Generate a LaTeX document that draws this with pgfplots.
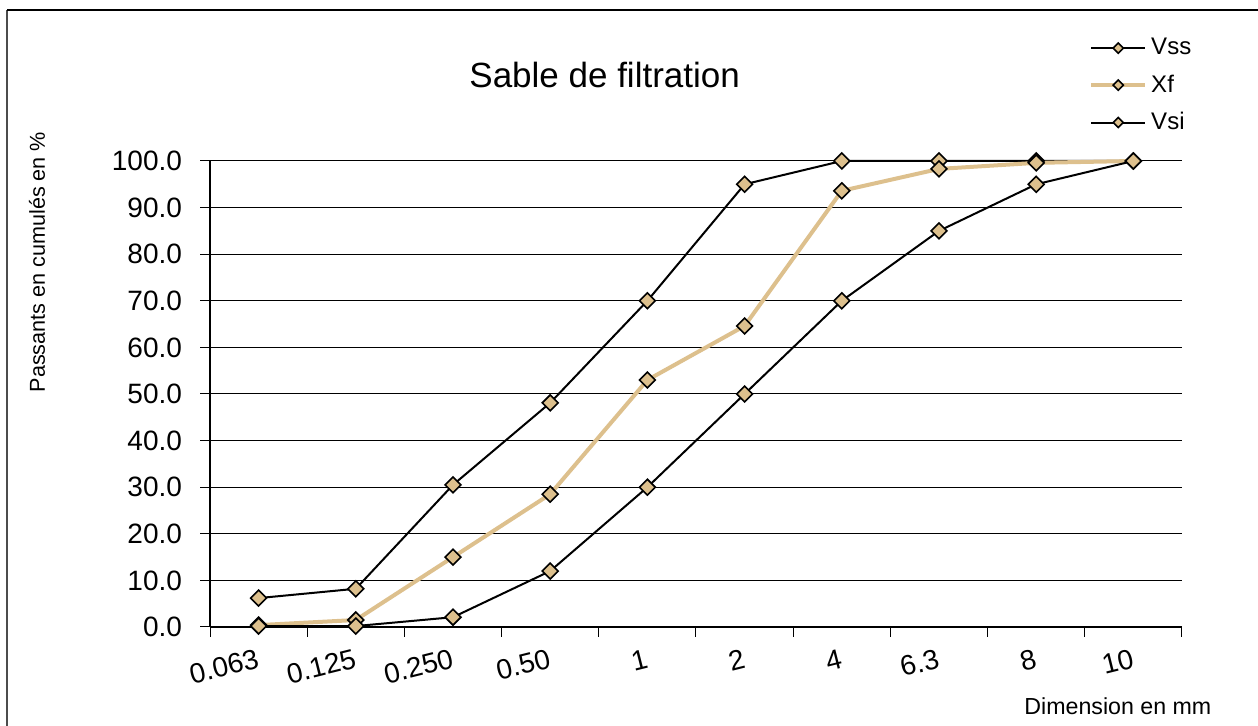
\documentclass[border=0pt]{standalone}
\usepackage{pgfplots}
\pgfplotsset{compat=1.18}
\usepackage{fontspec}
\setmainfont{Liberation Sans}
\definecolor{sand}{RGB}{221,192,141}

\begin{document}
\begin{tikzpicture}[x=1pt,y=1pt]
\useasboundingbox (0,0) rectangle (629,363);
\draw[line width=1pt, gray!60!black] (3.5,0) -- (3.5,358);
\draw[line width=1pt] (3.5,358) -- (629,358);
\begin{axis}[
    at={(105pt,49.5pt)}, anchor=south west,
    scale only axis, width=486pt, height=233pt,
    xmin=-0.5, xmax=9.5, ymin=0, ymax=100,
    clip=false,
    axis x line=bottom, axis y line=left,
    axis line style={-, black, line width=0.6pt},
    xtick={-0.5,0.5,...,9.5}, xticklabels={},
    extra x ticks={0,...,9},
    extra x tick labels={0.063,0.125,0.250,0.50,1,2,4,6.3,8,10},
    extra x tick style={major tick length=0pt, grid=none,
        xticklabel style={rotate=14, anchor=east, yshift=-15pt, xshift=-0.5pt}},
    ytick={0,10,...,100},
    ymajorgrids, major grid style={black, line width=0.5pt},
    tick align=outside, major tick length=5pt,
    tick style={black, line width=0.5pt},
    tick label style={font=\fontsize{14}{16}\selectfont},
    y tick label style={xshift=-5.5pt, /pgf/number format/.cd, fixed, fixed zerofill, precision=1,
        assume math mode=true, /tikz/.cd},
    x tick label style={/pgf/number format/assume math mode=true},
    title={Sable de filtration},
    title style={at={(rel axis cs:0.406,1.159)}, anchor=center, font=\fontsize{17.5}{20}\selectfont},
    ylabel={Passants en cumulés en \%},
    ylabel style={at={(rel axis cs:-0.178,0.783)}, anchor=center, rotate=0, font=\fontsize{10.8}{12}\selectfont},
    xlabel={Dimension en mm},
    xlabel style={at={(rel axis cs:0.934,-0.170)}, anchor=center, font=\fontsize{11.6}{13}\selectfont},
    legend style={draw=none, fill=none, at={(rel axis cs:0.898,1.281)}, anchor=north west,
        font=\fontsize{12}{13}\selectfont, row sep=4.5pt},
    legend cell align=left,
    legend image code/.code={
        \draw[#1] (0pt,0pt) -- (27pt,0pt);
        \draw[#1, mark size=1.8pt] plot coordinates {(13.5pt,0pt)};
    },
    every axis plot/.append style={mark=square*, mark size=2.8pt,
        mark options={rotate=45, solid, fill=sand, draw=black, line width=0.8pt}},
]
\addplot[black, line width=1pt] coordinates {
    (0,6.2) (1,8.2) (2,30.5) (3,48.1) (4,70) (5,95) (6,100) (7,100) (8,100) (9,100)};
\addlegendentry{Vss}
\addplot[sand, line width=2pt] coordinates {
    (0,0.4) (1,1.5) (2,15) (3,28.5) (4,53) (5,64.6) (6,93.6) (7,98.3) (8,99.6) (9,100)};
\addlegendentry{Xf}
\addplot[black, line width=1pt] coordinates {
    (0,0.2) (1,0.2) (2,2.1) (3,12) (4,30) (5,50) (6,70) (7,85) (8,95) (9,100)};
\addlegendentry{Vsi}
\end{axis}
\end{tikzpicture}
\end{document}
